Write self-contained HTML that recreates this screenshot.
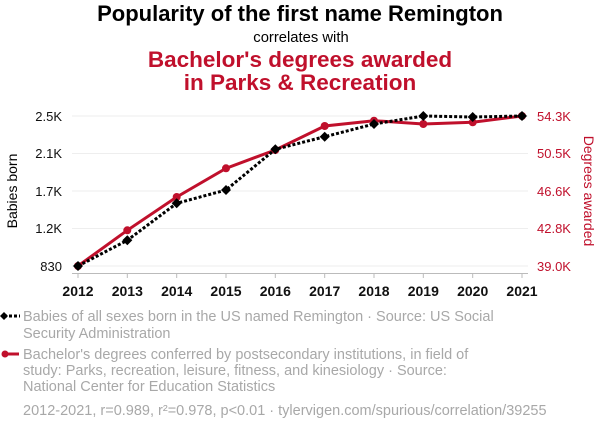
<!DOCTYPE html>
<html><head><meta charset="utf-8"><style>
body{margin:0;background:#fff;}
svg{display:block;font-family:"Liberation Sans",Arial,sans-serif;}
</style></head><body>
<svg width="600" height="430" viewBox="0 0 600 430" xmlns="http://www.w3.org/2000/svg">
<text x="300" y="21" text-anchor="middle" font-size="22" font-weight="bold" fill="#000">Popularity of the first name Remington</text>
<text x="301" y="42" text-anchor="middle" font-size="14.8" fill="#000">correlates with</text>
<text x="300" y="67" text-anchor="middle" font-size="22.5" font-weight="bold" fill="#c0102c">Bachelor's degrees awarded</text>
<text x="300" y="90" text-anchor="middle" font-size="22.5" font-weight="bold" fill="#c0102c">in Parks &amp; Recreation</text>
<g stroke="#eee" stroke-width="1">
<line x1="72" y1="116" x2="528" y2="116"/><line x1="72" y1="153.5" x2="528" y2="153.5"/>
<line x1="72" y1="191" x2="528" y2="191"/><line x1="72" y1="228.5" x2="528" y2="228.5"/>
<line x1="72" y1="266" x2="528" y2="266"/>
</g>
<line x1="72" y1="273.5" x2="528" y2="273.5" stroke="#bbb"/>
<g stroke="#bbb">
<line x1="78" y1="273" x2="78" y2="278"/><line x1="127.3" y1="273" x2="127.3" y2="278"/><line x1="176.7" y1="273" x2="176.7" y2="278"/><line x1="226" y1="273" x2="226" y2="278"/><line x1="275.3" y1="273" x2="275.3" y2="278"/><line x1="324.7" y1="273" x2="324.7" y2="278"/><line x1="374" y1="273" x2="374" y2="278"/><line x1="423.3" y1="273" x2="423.3" y2="278"/><line x1="472.7" y1="273" x2="472.7" y2="278"/><line x1="522" y1="273" x2="522" y2="278"/>
</g>
<g font-size="14" font-weight="bold" text-anchor="middle" fill="#111">
<text x="78" y="296">2012</text><text x="127.3" y="296">2013</text><text x="176.7" y="296">2014</text><text x="226" y="296">2015</text><text x="275.3" y="296">2016</text><text x="324.7" y="296">2017</text><text x="374" y="296">2018</text><text x="423.3" y="296">2019</text><text x="472.7" y="296">2020</text><text x="522" y="296">2021</text>
</g>
<g font-size="13" text-anchor="end" fill="#111">
<text x="62" y="121">2.5K</text><text x="62" y="158">2.1K</text><text x="62" y="196">1.7K</text><text x="62" y="233">1.2K</text><text x="62" y="271">830</text>
</g>
<g font-size="13" fill="#c0102c">
<text x="537" y="121">54.3K</text><text x="537" y="158">50.5K</text><text x="537" y="196">46.6K</text><text x="537" y="233">42.8K</text><text x="537" y="271">39.0K</text>
</g>
<text transform="translate(17,191) rotate(-90)" text-anchor="middle" font-size="14" fill="#000">Babies born</text>
<text transform="translate(584,191) rotate(90)" text-anchor="middle" font-size="14" fill="#c0102c">Degrees awarded</text>
<polyline fill="none" stroke="#c0102c" stroke-width="3" points="78,266 127.3,230.3 176.7,197 226,168.3 275.3,150 324.7,126 374,120.7 423.3,124 472.7,122.3 522,116"/>
<g fill="#c0102c">
<circle cx="78" cy="266" r="4"/><circle cx="127.3" cy="230.3" r="4"/><circle cx="176.7" cy="197" r="4"/><circle cx="226" cy="168.3" r="4"/><circle cx="275.3" cy="150" r="4"/><circle cx="324.7" cy="126" r="4"/><circle cx="374" cy="120.7" r="4"/><circle cx="423.3" cy="124" r="4"/><circle cx="472.7" cy="122.3" r="4"/><circle cx="522" cy="116" r="4"/>
</g>
<polyline fill="none" stroke="#000" stroke-width="3" stroke-dasharray="3,2" points="78,266 127.3,240.3 176.7,203.3 226,190 275.3,149.3 324.7,136.7 374,124 423.3,116 472.7,117 522,116"/>
<g fill="#000">
<path d="M78 261l5 5-5 5-5-5z"/><path d="M127.3 235.3l5 5-5 5-5-5z"/><path d="M176.7 198.3l5 5-5 5-5-5z"/><path d="M226 185l5 5-5 5-5-5z"/><path d="M275.3 144.3l5 5-5 5-5-5z"/><path d="M324.7 131.7l5 5-5 5-5-5z"/><path d="M374 119l5 5-5 5-5-5z"/><path d="M423.3 111l5 5-5 5-5-5z"/><path d="M472.7 112l5 5-5 5-5-5z"/><path d="M522 111l5 5-5 5-5-5z"/>
</g>
<line x1="4" y1="316" x2="20" y2="316" stroke="#000" stroke-width="3" stroke-dasharray="3,2"/>
<path d="M4 312l4 4-4 4-4-4z" fill="#000"/>
<line x1="4" y1="354" x2="19" y2="354" stroke="#c0102c" stroke-width="3"/>
<circle cx="5" cy="354" r="3.5" fill="#c0102c"/>
<g font-size="14.5" fill="#a8a8a8">
<text x="23" y="321">Babies of all sexes born in the US named Remington · Source: US Social</text>
<text x="23" y="338">Security Administration</text>
<text x="23" y="359">Bachelor's degrees conferred by postsecondary institutions, in field of</text>
<text x="23" y="375">study: Parks, recreation, leisure, fitness, and kinesiology · Source:</text>
<text x="23" y="391">National Center for Education Statistics</text>
<text x="23" y="415">2012-2021, r=0.989, r²=0.978, p&lt;0.01 · tylervigen.com/spurious/correlation/39255</text>
</g>
</svg>
</body></html>
